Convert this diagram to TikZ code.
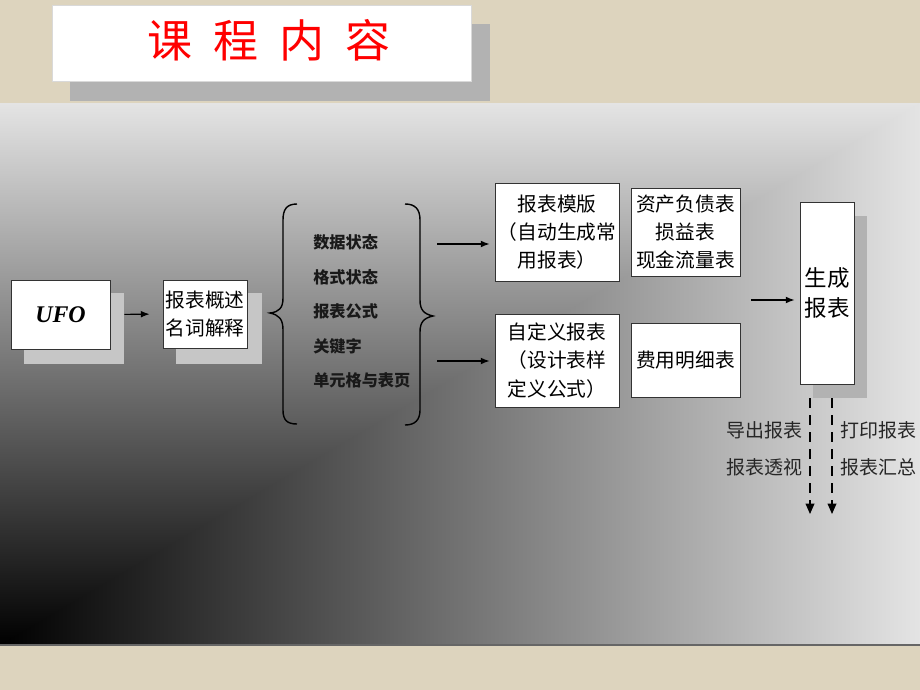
\documentclass[tikz,border=0pt]{standalone}
\usepackage{fontspec}
\setmainfont{Liberation Serif}
\newfontfamily\cjk{Noto Sans CJK SC}
\usetikzlibrary{arrows.meta,positioning,shadings}
\definecolor{bgpaper}{HTML}{DDD4BE}
\definecolor{shadowgray}{HTML}{C6C6C6}
\definecolor{titleshadow}{HTML}{B2B2B2}
\definecolor{panellight}{HTML}{E4E4E4}
\definecolor{panelmid}{HTML}{676767}
\newcommand{\px}{0.025cm}
\newcommand{\boxline}{0.6pt}
\tikzset{
  card/.style={draw=black!80, line width=\boxline, fill=white, inner sep=0pt,
    align=center, font=\cjk\fontsize{14}{20}\selectfont},
  shadowbox/.style={fill=shadowgray},
  topic/.style={anchor=west, inner sep=0pt, text=black!90,
    font=\cjk\bfseries\fontsize{11.5}{14}\selectfont},
  outlabel/.style={inner sep=0pt, text=black!85, font=\cjk\fontsize{13.5}{16}\selectfont},
  flow/.style={-{Latex[length=2.2mm,width=1.7mm]}, line width=0.8pt},
  outflow/.style={-{Triangle[length=2.6mm,width=2.2mm]}, line width=0.8pt,
    dash pattern=on 10*\px off 7*\px},
  bracket/.style={line width=1pt}
}

\begin{document}
\begin{tikzpicture}[x=\px, y=-\px]
\useasboundingbox (0,0) rectangle (920,690);
\fill[bgpaper] (0,0) rectangle (920,690);
%panel
\shade[left color=black, middle color=panelmid, right color=panellight] (0,103) rectangle (920,645);
\begin{scope}
\clip (0,645) -- (0,103) -- (920,103) -- cycle;
\shade[bottom color=black, middle color=panelmid, top color=panellight] (0,103) rectangle (920,645);
\end{scope}
\draw[black!60, line width=0.8pt] (0,645) -- (920,645);
%title
\fill[titleshadow] (70,24) rectangle (490,101);
\node[fill=white, draw=black!15, minimum width=419*\px, minimum height=76*\px] (titlebox) at (261.5,43) {};
\node[text=red, font=\cjk\fontsize{32}{36}\selectfont] (title) at (269,40)
  {课\hspace{0.53cm}程\hspace{0.53cm}内\hspace{0.53cm}容};
%left boxes
\fill[shadowbox] (24,293) rectangle (124,364);
\node[card, minimum width=99*\px, minimum height=69*\px] (ufo) at (60.5,314.5)
  {\fontspec{Liberation Serif}\bfseries\itshape\fontsize{17}{20}\selectfont UFO};
\fill[shadowbox] (176,293) rectangle (262,364);
\node[card, minimum width=84*\px, minimum height=68*\px] (intro) at (205,314) {报表概述\\名词解释};
\draw[flow, shorten <=14*\px, shorten >=13*\px] (ufo.east) -- (intro.west);
%topics
\draw[bracket] (297,204) .. controls (287,204) and (283,209) .. (283,220) -- (283,298)
  .. controls (283,308) and (279,312) .. (270,313) .. controls (279,315) and (283,319) .. (283,330)
  -- (283,410) .. controls (283,420) and (287,424) .. (297,424);
\draw[bracket] (405,204) .. controls (415,204) and (420,209) .. (420,220) -- (420,300)
  .. controls (420,310) and (424,314) .. (433,316) .. controls (424,318) and (420,322) .. (420,332)
  -- (420,410) .. controls (420,420) and (415,425) .. (405,425);
\node[topic] (t1) at (313,242) {数据状态};
\node[topic] (t2) at (313,277) {格式状态};
\node[topic] (t3) at (313,311) {报表公式};
\node[topic] (t4) at (313,346) {关键字};
\node[topic] (t5) at (313,380) {单元格与表页};
%report boxes
\node[card, minimum width=124*\px, minimum height=98*\px] (tmpl) at (557,232)
  {报表模版\\（自动生成常\\用报表）};
\node[card, minimum width=109*\px, minimum height=88*\px] (std) at (685.5,232)
  {资产负债表\\损益表\\现金流量表};
\node[card, minimum width=124*\px, minimum height=93*\px] (custom) at (557,360.5)
  {自定义报表\\（设计表样\\定义公式）};
\node[card, minimum width=109*\px, minimum height=74*\px] (fee) at (685.5,360) {费用明细表};
\coordinate (a1) at (437,244);
\coordinate (a2) at (437,361);
\draw[flow, shorten >=5*\px] (a1) -- (tmpl.west |- a1);
\draw[flow, shorten >=5*\px] (a2) -- (custom.west |- a2);
%output
\fill[shadowgray!90!black] (813,216) rectangle (867,398);
\node[card, minimum width=54*\px, minimum height=182*\px, font=\cjk\fontsize{16}{22}\selectfont] (gen)
  at (827,293) {生成\\报表};
\coordinate (a3) at (751,300);
\draw[flow, shorten >=5*\px] (a3) -- (gen.west |- a3);
\coordinate (d1) at (810,514);
\coordinate (d2) at (832,514);
\draw[outflow, shorten <=14*\px] (gen.south -| d1) -- (d1);
\draw[outflow, shorten <=14*\px] (gen.south -| d2) -- (d2);
\node[outlabel, anchor=east] (export) at (803,430) {导出报表};
\node[outlabel, anchor=east] (pivot) at (803,467) {报表透视};
\node[outlabel, anchor=west] (print) at (840,430) {打印报表};
\node[outlabel, anchor=west] (summary) at (840,467) {报表汇总};
\end{tikzpicture}
\end{document}
